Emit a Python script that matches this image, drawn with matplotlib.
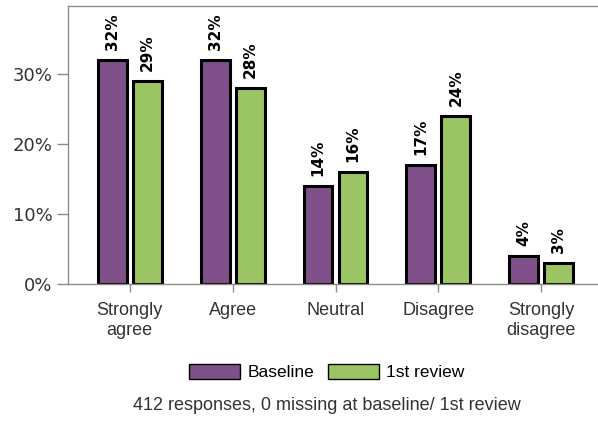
import matplotlib
matplotlib.use("Agg")
import matplotlib.pyplot as plt
import numpy as np
from matplotlib.patches import Patch

categories = ["Strongly\nagree", "Agree", "Neutral", "Disagree", "Strongly\ndisagree"]
baseline = [32, 32, 14, 17, 4]
review1 = [29, 28, 16, 24, 3]
series_names = ["Baseline", "1st review"]
yticks = [0, 10, 20, 30]
caption = "412 responses, 0 missing at baseline/ 1st review"

purple = "#7f4f8a"
green = "#9bc462"
grey = "#8c8c8c"
txt = "#333333"

fig = plt.figure(figsize=(5.98, 4.21), dpi=100)
ax = fig.add_axes([68/598, 137/421, 535/598, 278/421])

x = np.arange(len(categories))
w = 0.28
off = 0.17
b1 = ax.bar(x - off, baseline, w, color=purple, edgecolor="black", linewidth=2.2)
b2 = ax.bar(x + off, review1, w, color=green, edgecolor="black", linewidth=2.2)

for bars, vals in ((b1, baseline), (b2, review1)):
    for rect, v in zip(bars, vals):
        ax.annotate(f"{v}%", (rect.get_x() + rect.get_width()/2, v),
                    xytext=(0, 7), textcoords="offset points",
                    rotation=90, ha="center", va="bottom",
                    fontsize=11, fontweight="bold", color="black",
                    family="DejaVu Sans")

ax.set_xlim(-0.6, 4.6)
ax.set_ylim(0, 39.7)
ax.set_yticks(yticks)
ax.set_yticklabels([f"{t}%" for t in yticks], fontsize=13, color=txt, family="DejaVu Sans")
ax.set_xticks(x)
ax.set_xticklabels(categories, fontsize=13, color=txt, family="Liberation Sans", linespacing=1.2)
ax.tick_params(axis="y", length=8, color=grey, width=1, pad=3)
ax.tick_params(axis="x", length=6, color=grey, width=1, pad=7)
for s in ax.spines.values():
    s.set_color(grey)
    s.set_linewidth(1)

handles = [Patch(facecolor=purple, edgecolor="black", linewidth=1),
           Patch(facecolor=green, edgecolor="black", linewidth=1)]
fig.legend(handles, series_names, loc="center", bbox_to_anchor=(327/598, 1 - 372/421),
           ncol=2, frameon=False, handlelength=2.9, handleheight=0.95,
           handletextpad=0.45, columnspacing=0.8,
           prop={"family": "Liberation Sans", "size": 12.5})
fig.text(327/598, 1 - 405/421, caption, ha="center", va="center",
         fontsize=13, color=txt, family="Liberation Sans")

fig.savefig("out.png", dpi=100)
